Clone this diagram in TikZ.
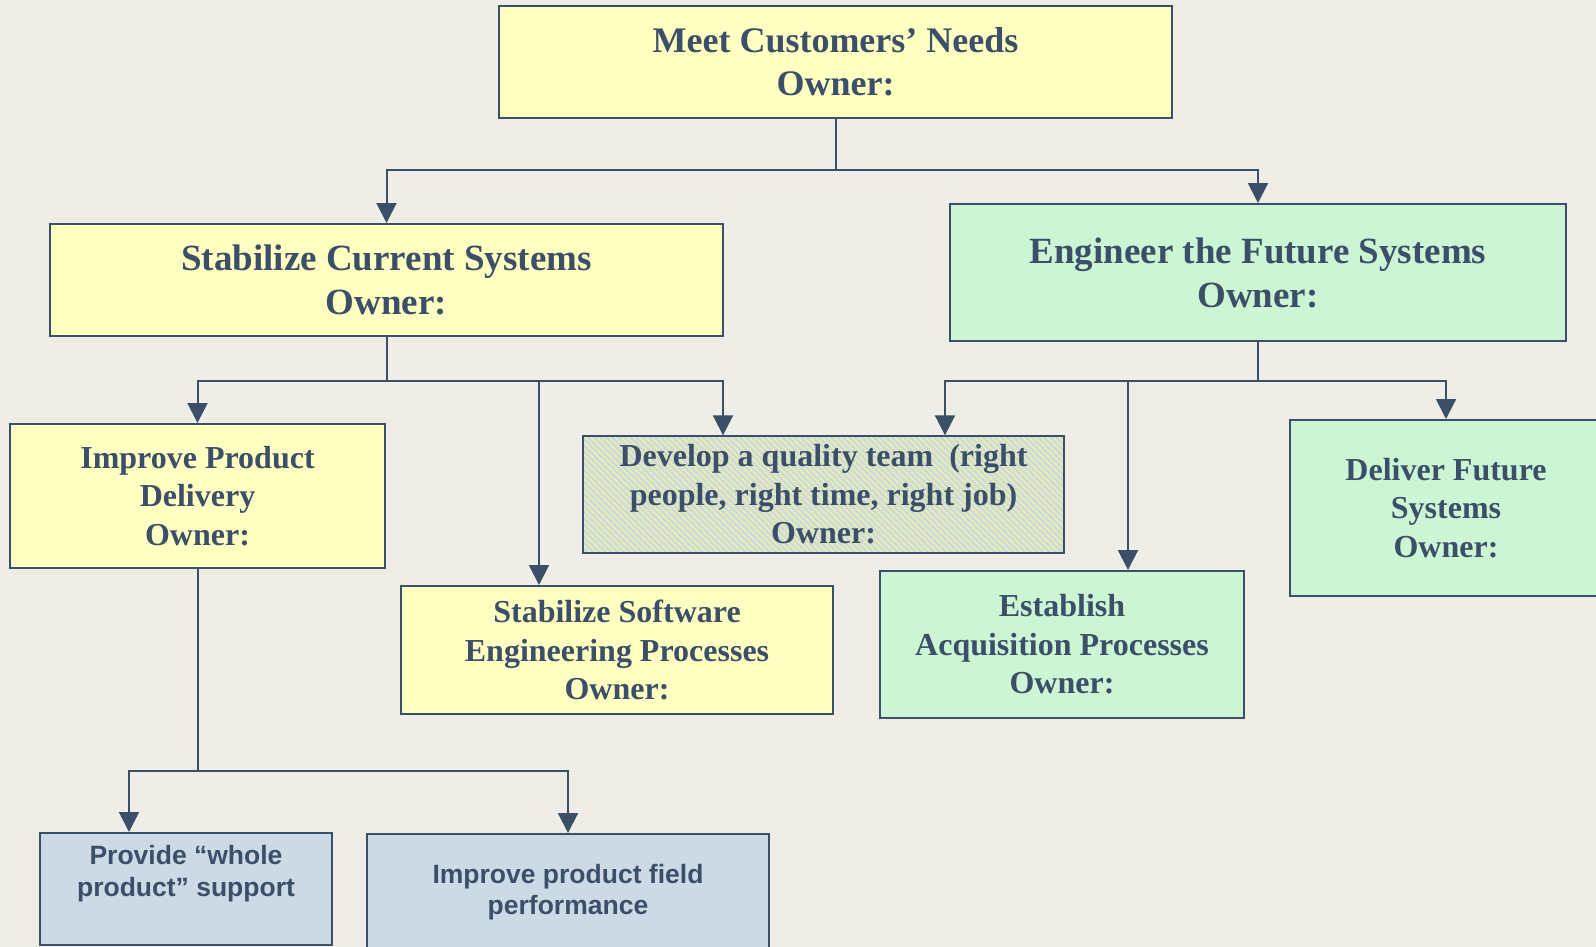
\documentclass[tikz,border=0pt]{standalone}
\usepackage{fontspec}
\setmainfont{Liberation Serif}
\newfontfamily\taskfont{Liberation Sans}
\usetikzlibrary{arrows.meta,patterns.meta}
\definecolor{orgink}{HTML}{3B5068}
\definecolor{orgback}{HTML}{EEEDE6}
\definecolor{orgyellow}{HTML}{FFFFC2}
\definecolor{orggreen}{HTML}{CCF5D4}
\definecolor{orgblue}{HTML}{CCDAE6}
\definecolor{orgstripe}{HTML}{EFF09A}
\tikzset{
    orgblock/.style={draw=orgink, line width=2pt, align=center, text=orgink, inner sep=0pt, font=\bfseries\fontsize{37}{44}\selectfont},
    orgsmall/.style={orgblock, font=\bfseries\fontsize{32}{38.5}\selectfont},
    orgtask/.style={orgblock, fill=orgblue, font=\taskfont\bfseries\fontsize{26.5}{31.5}\selectfont},
    orgarrow/.style={-{Triangle[length=20pt,width=20pt]}, line width=2pt, draw=orgink},
    orgline/.style={line width=2pt, draw=orgink}
}

\begin{document}
\begin{tikzpicture}[x=1pt, y=-1pt]
        \fill[orgback] (0,0) rectangle (1596,947);
        \useasboundingbox (0,0) rectangle (1596,947);
        \node[orgblock, fill=orgyellow, font=\bfseries\fontsize{36}{43}\selectfont, minimum width=673pt, minimum height=112pt] (needs) at (835.5,62) {Meet Customers’ Needs\\Owner:};
        \node[orgblock, fill=orgyellow, minimum width=673pt, minimum height=112pt] (current) at (386.5,280) {Stabilize Current Systems\\Owner:};
        \node[orgblock, fill=orggreen, minimum width=616pt, minimum height=137pt] (future) at (1258,272.5) {Engineer the Future Systems\\Owner:};
        \node[orgsmall, fill=orgyellow, minimum width=375pt, minimum height=144pt] (delivery) at (197.5,496) {Improve Product\\Delivery\\Owner:};
        \node[orgsmall, preaction={fill=orgblue}, pattern={Lines[angle=-45,distance=4.3pt,line width=1.4pt]}, pattern color=orgstripe, minimum width=481pt, minimum height=117pt] (team) at (823.5,494.5) {Develop a quality team\ \ (right\\people, right time, right job)\\Owner:};
        \node[orgsmall, fill=orggreen, minimum width=312pt, minimum height=176pt] (deliver) at (1446,508) {Deliver Future\\Systems\\Owner:};
        \node[orgsmall, fill=orgyellow, minimum width=432pt, minimum height=128pt] (software) at (617,650) {Stabilize Software\\Engineering Processes\\Owner:};
        \node[orgsmall, fill=orggreen, minimum width=364pt, minimum height=147pt] (acquire) at (1062,644.5) {Establish\\Acquisition Processes\\Owner:};
        \node[orgtask, minimum width=292pt, minimum height=112pt, text depth=36pt] (support) at (186,889) {Provide “whole\\product” support};
        \node[orgtask, minimum width=402pt, minimum height=116pt] (field) at (568,892) {Improve product field\\performance};
        % top level
        \coordinate (topbus) at (835.5,170);
        \draw[orgline] (needs.south) -- (topbus);
        \draw[orgarrow] (topbus) -| (current.north);
        \draw[orgarrow] (topbus) -| (future.north);
        % left branch
        \coordinate (leftbus) at (386.5,381);
        \coordinate (swtap) at (539,381);
        \coordinate (teamtap) at (723,381);
        \draw[orgline] (current.south) -- (leftbus);
        \draw[orgarrow] (leftbus) -| (delivery.north);
        \draw[orgarrow] (leftbus) -- (teamtap) -- (teamtap |- team.north);
        \draw[orgarrow] (swtap) -- (swtap |- software.north);
        % right branch
        \coordinate (rightbus) at (1258,381);
        \coordinate (teamtapr) at (945,381);
        \coordinate (acqtap) at (1128,381);
        \draw[orgline] (future.south) -- (rightbus);
        \draw[orgarrow] (rightbus) -- (teamtapr) -- (teamtapr |- team.north);
        \draw[orgarrow] (rightbus) -| (deliver.north);
        \draw[orgarrow] (acqtap) -- (acqtap |- acquire.north);
        % product delivery
        \coordinate (lowbus) at (197.5,771);
        \coordinate (supporttap) at (129,771);
        \draw[orgline] (delivery.south) -- (lowbus);
        \draw[orgarrow] (lowbus) -- (supporttap) -- (supporttap |- support.north);
        \draw[orgarrow] (lowbus) -| (field.north);
    \end{tikzpicture}
\end{document}
